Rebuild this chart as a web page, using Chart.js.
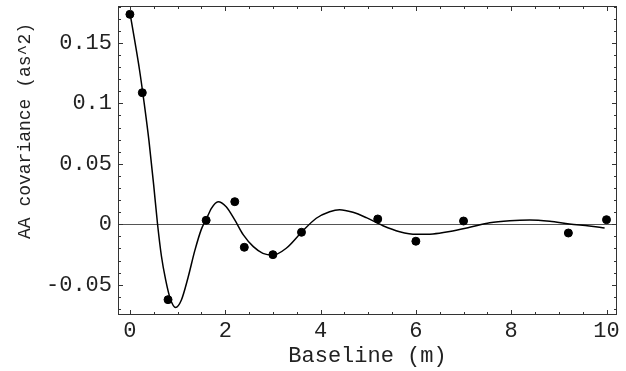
<!DOCTYPE html>
<html>
<head>
<meta charset="utf-8">
<script src="https://cdn.jsdelivr.net/npm/chart.js@4"></script>
<style>
  html, body { margin: 0; padding: 0; background: #fff; }
  #wrap { width: 626px; height: 371px; }
</style>
</head>
<body>
<div id="wrap"><canvas id="covChart"></canvas></div>
<script>
// measured points
const pointX = [0, 0.26, 0.8, 1.6, 2.2, 2.4, 3.0, 3.6, 5.2, 6.0, 7.0, 9.2, 10.0];
const pointY = [0.1736, 0.1088, -0.0623, 0.0033, 0.0187, -0.019, -0.0251, -0.0066, 0.0044, -0.014, 0.0027, -0.0072, 0.0038];

// fitted curve
const curveX = [0, 0.1, 0.2, 0.3, 0.4, 0.5, 0.58, 0.66, 0.75, 0.85, 0.96, 1.08, 1.22, 1.36, 1.5, 1.6, 1.71, 1.85,
  2.02, 2.2, 2.38, 2.59, 2.79, 3.0, 3.28, 3.6, 3.91, 4.19, 4.4, 4.68, 4.96, 5.31, 5.66, 6.01, 6.36, 6.71,
  7.13, 7.55, 7.97, 8.39, 8.81, 9.22, 9.64, 9.96];
const curveY = [0.175, 0.152, 0.128, 0.100, 0.069, 0.032, 0.0, -0.026, -0.046, -0.062, -0.0688, -0.0626, -0.044, -0.022, -0.004, 0.004, 0.0132, 0.0187,
  0.0146, 0.0036, -0.0088, -0.0185, -0.024, -0.0254, -0.0198, -0.0066, 0.005, 0.0104, 0.0121, 0.0099, 0.0055, -0.0012, -0.0061, -0.0083, -0.008, -0.006,
  -0.0025, 0.0013, 0.003, 0.0036, 0.0025, 0.0003, -0.0014, -0.003];

const xTicks = [0, 2, 4, 6, 8, 10];
const yTicks = [-0.05, 0, 0.05, 0.1, 0.15];
const yTickLabels = ['-0.05', '0', '0.05', '0.1', '0.15'];

const FONT = "'Courier New', 'Liberation Mono', monospace";
const fontSize = 22;

// frame with inward ticks, mathematica style
const frameTicks = {
  id: 'frameTicks',
  afterDatasetsDraw(chart) {
    const { ctx, chartArea: a, scales: { x, y } } = chart;
    ctx.save();
    ctx.strokeStyle = '#333';
    ctx.lineWidth = 1;
    ctx.strokeRect(a.left + 0.5, a.top + 0.5, a.right - a.left - 1, a.bottom - a.top - 1);
    ctx.beginPath();
    for (let i = 0; i <= 20; i++) {
      const px = Math.round(x.getPixelForValue(i * 0.5)) + 0.5;
      const len = i % 4 === 0 ? 5 : 3;
      ctx.moveTo(px, a.bottom); ctx.lineTo(px, a.bottom - len);
      ctx.moveTo(px, a.top); ctx.lineTo(px, a.top + len);
    }
    for (let j = -7; j <= 18; j++) {
      const py = Math.round(y.getPixelForValue(j * 0.01)) + 0.5;
      const len = j % 5 === 0 ? 5 : 3;
      ctx.moveTo(a.left, py); ctx.lineTo(a.left + len, py);
      ctx.moveTo(a.right, py); ctx.lineTo(a.right - len, py);
    }
    ctx.stroke();

    // y axis title (smaller in the original)
    ctx.fillStyle = '#222';
    ctx.font = '18px ' + FONT;
    ctx.textAlign = 'center';
    ctx.textBaseline = 'middle';
    ctx.translate(25, 131);
    ctx.rotate(-Math.PI / 2);
    ctx.fillText('AA covariance (as^2)', 0, 0);
    ctx.restore();
  }
};

const ctx = document.getElementById('covChart').getContext('2d');
new Chart(ctx, {
  type: 'scatter',
  data: {
    datasets: [
      {
        label: 'fit',
        data: curveX.map((v, i) => ({ x: v, y: curveY[i] })),
        showLine: true,
        borderColor: '#000',
        borderWidth: 1.5,
        pointRadius: 0,
        cubicInterpolationMode: 'monotone',
        order: 2
      },
      {
        label: 'data',
        data: pointX.map((v, i) => ({ x: v, y: pointY[i] })),
        backgroundColor: '#000',
        borderColor: '#000',
        pointRadius: 4,
        order: 1
      }
    ]
  },
  options: {
    responsive: true,
    maintainAspectRatio: false,
    animation: false,
    layout: { padding: { top: 6, right: 9, left: 0, bottom: 0 } },
    plugins: { legend: { display: false }, tooltip: { enabled: false } },
    scales: {
      x: {
        type: 'linear',
        min: -0.25,
        max: 10.22,
        afterBuildTicks: s => { s.ticks = xTicks.map(v => ({ value: v })); },
        afterFit: s => { s.height = 56; s.paddingLeft = 0; s.paddingRight = 0; },
        grid: { display: false, drawTicks: false },
        border: { display: false },
        ticks: { color: '#222', font: { family: FONT, size: fontSize }, padding: 3, maxRotation: 0 },
        title: { display: true, text: 'Baseline (m)', color: '#222', font: { family: FONT, size: fontSize }, padding: { top: 0, bottom: 2 } }
      },
      y: {
        type: 'linear',
        min: -0.075,
        max: 0.1805,
        afterBuildTicks: s => { s.ticks = yTicks.map(v => ({ value: v })); },
        afterFit: s => { s.width = 118; s.paddingTop = 0; s.paddingBottom = 0; },
        grid: {
          drawTicks: false,
          color: c => (c.tick && c.tick.value === 0 ? '#555' : 'rgba(0,0,0,0)'),
          lineWidth: 1
        },
        border: { display: false },
        ticks: {
          color: '#222',
          font: { family: FONT, size: fontSize },
          padding: 6,
          callback: v => yTickLabels[yTicks.indexOf(v)]
        }
      }
    }
  },
  plugins: [frameTicks]
});
</script>
</body>
</html>
